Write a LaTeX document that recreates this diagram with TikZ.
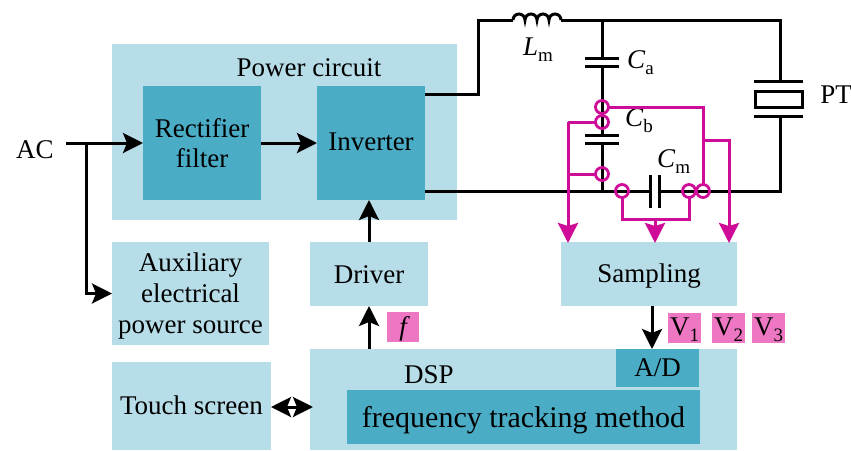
\documentclass[tikz,border=0pt]{standalone}
\usepackage{fontspec}
\setmainfont{Liberation Serif}
\usetikzlibrary{arrows.meta,calc}
\definecolor{lightb}{HTML}{B7DDE8}
\definecolor{darkb}{HTML}{4BACC6}
\definecolor{mag}{HTML}{CF0C97}
\definecolor{pinkb}{HTML}{EE77C4}
\newcommand{\bx}[7]{\node[#1,minimum width=#5-#3,minimum height=#6-#4] (#2) at ({(#3+#5)/2},{(#4+#6)/2}) {#7};}
\newcommand{\dn}[2]{\raisebox{-#1pt}[\height][\depth]{#2}}
\newcommand{\subm}[1]{\raisebox{-0.22em}{\fontsize{19}{19}\selectfont #1}}
\newcommand{\vsub}[2]{\dn{2}{#1\raisebox{-0.22em}{\fontsize{19}{19}\selectfont #2}}}
\tikzset{
 base/.style={inner sep=0pt,outer sep=0pt,align=center,font=\fontsize{27}{31}\selectfont},
 light/.style={base,fill=lightb},
 dark/.style={base,fill=darkb},
 pinkbox/.style={base,fill=pinkb},
 lab/.style={base,inner sep=0pt},
 wire/.style={line width=3pt,black},
 flow/.style={line width=3pt,black,-{Stealth[length=20pt,width=20pt,inset=4pt]}},
 sig/.style={line width=3pt,mag},
 sigarrow/.style={sig,-{Stealth[length=20pt,width=20pt,inset=3pt]}},
 probe/.style={circle,draw=mag,line width=2.8pt,minimum size=13pt,inner sep=0pt,outer sep=0pt},
}
\begin{document}
\begin{tikzpicture}[x=1pt,y=-1pt]
\useasboundingbox (0,0) rectangle (851,450);
% blocks
\bx{light}{power}{112}{44}{457}{220}{}
\bx{dark}{rect}{143}{86}{261}{200}{\dn{1}{Rectifier}\\filter}
\bx{dark}{inv}{317}{86}{425}{200}{\dn{-1}{Inverter}}
\bx{light}{aux}{112}{242}{269}{345}{\dn{3}{Auxiliary}\\\dn{3}{electrical}\\\dn{3}{power source}}
\bx{light}{driver}{310}{242}{428}{306}{\dn{1}{Driver}}
\bx{light}{samp}{561}{242}{737}{306}{\dn{2}{Sampling}}
\bx{light}{touch}{112}{362}{271}{450}{\dn{-1}{Touch screen}}
\bx{light}{dsp}{310}{349}{737}{450}{}
\bx{dark}{ad}{616}{349}{699}{387}{A/D}
\bx{dark}{freq}{347}{390}{700}{444}{\fontsize{30}{34}\selectfont\dn{3}{frequency tracking method}}
\bx{pinkbox}{fb}{387}{312}{419}{342}{\dn{2}{\itshape f}}
\bx{pinkbox}{v1}{668}{313}{701}{343}{\vsub{V}{1}}
\bx{pinkbox}{v2}{712}{313}{745}{343}{\vsub{V}{2}}
\bx{pinkbox}{v3}{752}{313}{785}{343}{\vsub{V}{3}}
% labels
\node[lab] (tpower) at (309,68) {Power circuit};
\node[lab] (tdsp) at (429,375) {DSP};
\node[lab] (tac) at (35,150) {AC};
\node[lab] (tpt) at (836,95) {PT};
\node[lab,anchor=west] (tl) at (523,50) {\textit{L}\subm{m}};
\node[lab,anchor=west] (tca) at (627,63) {\textit{C}\subm{a}};
\node[lab,anchor=west] (tcb) at (625,121) {\textit{C}\subm{b}};
\node[lab,anchor=west] (tcm) at (657,162) {\textit{C}\subm{m}};
% block connectors
\coordinate (acs) at (66,143);
\coordinate (acj) at (86,143);
\draw[flow] (acs) -- (acs -| rect.west);
\draw[flow] (acj) |- (aux.west);
\draw[flow] (rect.east) -- (inv.west);
\coordinate (invx) at (369,200);
\coordinate (drvt) at (369,242);
\coordinate (drvb) at (369,306);
\coordinate (dspt) at (369,349);
\draw[flow] (drvt) -- (invx);
\draw[flow] (dspt) -- (drvb);
\coordinate (sb) at (652,306);
\coordinate (adt) at (652,349);
\draw[flow] (sb) -- (adt);
\coordinate (da) at (271,407);
\coordinate (db) at (313,407);
\draw[line width=3pt,{Stealth[length=20pt,width=20pt,inset=4pt]}-{Stealth[length=20pt,width=20pt,inset=4pt]}] (da) -- (db);
% circuit
\coordinate (o1) at (425,94);
\coordinate (o2) at (425,191);
\coordinate (tc) at (478,20);
\coordinate (l1) at (513,20);
\coordinate (l2) at (561,20);
\coordinate (tj) at (602,20);
\coordinate (tr) at (780,20);
\coordinate (bj) at (602,191);
\coordinate (br) at (780,191);
\draw[wire] (o1) -| (tc) -- (l1);
\draw[wire] (l1) arc[start angle=180,end angle=0,radius=6pt]
 arc[start angle=180,end angle=0,radius=6pt]
 arc[start angle=180,end angle=0,radius=6pt]
 arc[start angle=180,end angle=0,radius=6pt];
\draw[wire] (l2) -- (tr) -- (780,81);
\draw[wire] (o2) -- (650,191) (659,191) -- (br) -- (780,116);
\draw[wire] (tj) -- (602,58);
\draw[wire] (585,58) -- (619,58) (585,66.500) -- (619,66.500);
\draw[wire] (602,66.500) -- (602,135);
\draw[wire] (585,135) -- (619,135) (585,143.500) -- (619,143.500);
\draw[wire] (602,143.500) -- (bj);
\draw[wire] (650,175) -- (650,208) (659,175) -- (659,208);
\draw[wire] (754,81) -- (803,81) (754,116) -- (803,116);
\node[draw=black,line width=3pt,minimum width=47pt,minimum height=16pt,inner sep=0pt] (pt) at (778.500,99) {};
% probes
\node[probe] (p1) at (602,107) {};
\node[probe] (p2) at (602,122) {};
\node[probe] (p3) at (602,174) {};
\node[probe] (p4) at (622,191) {};
\node[probe] (p5) at (689,191) {};
\node[probe] (p6) at (703,191) {};
\coordinate (ltop) at (568,122);
\coordinate (lend) at (568,243);
\coordinate (rj) at (703,140);
\coordinate (rtop) at (729,140);
\coordinate (rend) at (729,243);
\coordinate (mj) at (655,219);
\coordinate (mend) at (655,243);
\draw[sig] (p1.east) -| (p6.north);
\draw[sig] (p2.west) -- (ltop);
\draw[sigarrow] (ltop) -- (lend);
\draw[sig] (p3.west) -- (p3.west -| ltop);
\draw[sigarrow] (rj) -- (rtop) -- (rend);
\draw[sig] (p4.south) |- (mj) -| (p5.south);
\draw[sigarrow] (mj) -- (mend);
\end{tikzpicture}
\end{document}
